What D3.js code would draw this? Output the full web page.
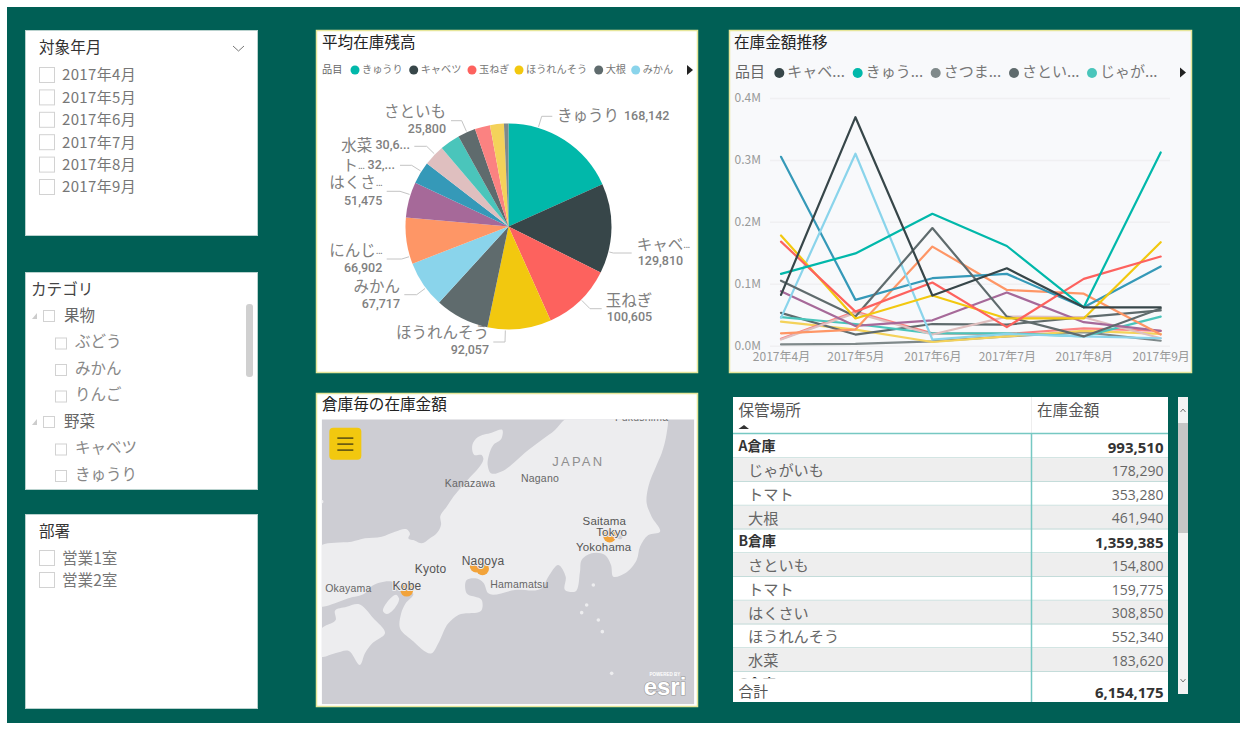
<!DOCTYPE html>
<html><head><meta charset="utf-8">
<style>
html,body{margin:0;padding:0;background:#fff;overflow:hidden}
svg{display:block}
text{font-family:"Noto Sans CJK JP","Noto Sans",sans-serif}
.num{font-family:"Roboto","Noto Sans",sans-serif}
.tnum{font-family:"Open Sans","Noto Sans",sans-serif}
</style>
<script src="https://cdn.jsdelivr.net/npm/d3@7/dist/d3.min.js"></script>
</head><body>
<svg id="c" width="1248" height="733"></svg>
<script>
// ---------- data ----------
const months = [[2017,3],[2017,4],[2017,5],[2017,6],[2017,7],[2017,8]];
const monthLabels = ["2017年4月","2017年5月","2017年6月","2017年7月","2017年8月","2017年9月"];
const departments = ["営業1室","営業2室"];
const categoryTree = [["果物",0],["ぶどう",1],["みかん",1],["りんご",1],["野菜",0],["キャベツ",1],["きゅうり",1]];

const items = ["きゅうり","キャベツ","玉ねぎ","ほうれんそう","大根","みかん","にんじん","はくさい","トマト","水菜","じゃがいも","さといも","ぶどう","りんご","さつまいも"];
const avgStock = [168142,129810,100605,92057,78000,67717,66902,51475,32000,30600,29000,25800,22000,20000,6500];
const itemColors = ["#01B8AA","#374649","#FD625E","#F2C80F","#5F6B6D","#8AD4EB","#FE9666","#A66999","#3599B8","#DFBFBF","#4AC5BB","#5F6B6D","#FB8281","#F4D25A","#7F898A"];

const trendきゅうり = [116,149,213,161,62,312];
const trendキャベツ = [82,369,81,125,62,62];
const trend玉ねぎ = [168,55,102,30,108,144];
const trendほうれんそう = [178,44,81,44,44,167];
const trend大根 = [105,47,190,47,15,60];
const trendみかん = [45,310,10,19,15,12];
const trendにんじん = [20,26,160,90,84,18];
const trendはくさい = [88,32,41,86,38,24];
const trendトマト = [305,74,109,116,62,128];
const trend水菜 = [10,53,18,47,46,12];
const trendじゃがいも = [46,35,20,20,15,47];
const trendさといも = [53,18,35,34,46,57];
const trendぶどう = [11,55,20,19,28,24];
const trendりんご = [39,26,6,15,24,19];
const trendさつまいも = [2,3,7,15,22,8];
const trends = [trendきゅうり,trendキャベツ,trend玉ねぎ,trendほうれんそう,trend大根,trendみかん,trendにんじん,trendはくさい,trendトマト,trend水菜,trendじゃがいも,trendさといも,trendぶどう,trendりんご,trendさつまいも];

const pieLegend = ["きゅうり","キャベツ","玉ねぎ","ほうれんそう","大根","みかん"];
const lineLegend = ["キャベ...","きゅう...","さつま...","さとい...","じゃが..."];
const lineLegendItems = ["キャベツ","きゅうり","さつまいも","さといも","じゃがいも"];

const tableRows = [["A倉庫","993,510",1],["じゃがいも","178,290",0],["トマト","353,280",0],["大根","461,940",0],["B倉庫","1,359,385",1],["さといも","154,800",0],["トマト","159,775",0],["はくさい","308,850",0],["ほうれんそう","552,340",0],["水菜","183,620",0],["C倉庫","857,860",1]];
const tableTotal = "6,154,175";

const warehouseLon = [139.69,136.87,136.73,135.19];
const warehouseLat = [35.69,35.10,35.15,34.71];
const warehouseValue = [993510,1359385,857860,1100000];

// decorative base map, in map-sheet units
const honshu = [[20,465],[60,458],[110,455],[150,445],[200,440],[240,425],[275,418],[285,432],[280,445],[300,452],[320,460],[345,445],[365,430],[378,405],[376,378],[395,350],[415,320],[440,290],[465,262],[490,235],[505,205],[500,195],[478,195],[472,165],[488,142],[530,128],[562,120],[558,148],[535,165],[522,195],[518,225],[528,250],[565,242],[600,215],[640,180],[680,150],[720,120],[750,88],[1058,88],[1055,130],[1040,190],[1025,225],[1000,290],[995,340],[1010,380],[1035,425],[1000,435],[975,470],[965,510],[930,550],[895,560],[888,525],[870,495],[830,490],[800,510],[795,545],[780,605],[750,600],[752,560],[730,525],[700,560],[680,595],[600,600],[520,610],[505,578],[482,565],[455,570],[455,610],[500,630],[500,660],[430,675],[400,700],[370,760],[350,790],[290,750],[255,715],[258,672],[272,640],[295,612],[262,592],[232,575],[168,590],[150,610],[100,625],[60,640],[20,650]];
const awaji = [[205,665],[245,615],[252,625],[215,672]];
const shikoku = [[20,800],[60,790],[100,782],[135,825],[150,790],[172,760],[210,730],[175,685],[130,642],[95,650],[60,662],[62,690],[30,708],[20,715]];
const isles = [[850,690],[862,725],[890,850],[800,668],[835,585],[815,645],[20,335]];
const lakes = [[915,440]];
const mapLabels = [["JAPAN",790,213,13,"#8f8f8f",2.2,0],["Kanazawa",465,278,10.5,"#666",0.2,0],["Nagano",675,265,10.5,"#666",0.2,0],["Saitama",868,394,11.5,"#555",0.2,0],["Tokyo",890,425,11.5,"#555",0.2,2],["Yokohama",866,472,11.5,"#555",0.2,2],["Nagoya",504,513,12,"#555",0.2,2],["Kyoto",347,538,12,"#555",0.2,0],["Kobe",276,587,12,"#555",0.2,2],["Okayama",100,593,10.5,"#666",0.2,0],["Hamamatsu",613,583,10.5,"#666",0.2,0],["Fukushima",980,80,10.5,"#666",0.2,0]];

// ---------- helpers ----------
const svg = d3.select("#c");
const teal = "#005f55";
svg.append("rect").attr("width",1248).attr("height",733).attr("fill","#fff");
svg.append("rect").attr("x",7).attr("y",7).attr("width",1233).attr("height",716).attr("fill",teal);
const defs = svg.append("defs");
function panel(x,y,w,h,fill,stroke,sw){
  svg.append("rect").attr("x",x+.5).attr("y",y+.5).attr("width",w-1).attr("height",h-1).attr("fill",fill||"#fff").attr("stroke",stroke||"#b9d2ce").attr("stroke-width",sw||1);
}
function txt(g,s,x,y,size,fill,anchor,weight,cls){
  const dy = cls ? 0 : -1.2;
  return g.append("text").attr("x",x).attr("y",y+dy).attr("font-size",size).attr("fill",fill)
    .attr("text-anchor",anchor||"start").attr("dominant-baseline","central").attr("font-weight",weight||400).attr("class",cls||null).text(s);
}
function box(g,x,y,s,c){g.append("rect").attr("x",x+.5).attr("y",y+.5).attr("width",s).attr("height",s).attr("fill","#fff").attr("stroke",c||"#d2d2d2").attr("stroke-width",1);}
function arrow(g,x,y){g.append("path").attr("d",d3.line()([[x-3,y-5],[x+3,y],[x-3,y+5]])+"Z").attr("fill","#222");}
// a name whose ellipsis is drawn in the narrower form the reference uses
function addName(t,name){
  const cut=name.indexOf("...");
  if(cut<0){t.append("tspan").text(name);return;}
  t.append("tspan").text(name.slice(0,cut));
  t.append("tspan").attr("font-size",10).attr("letter-spacing",-.6).text("...");
}
const titleSize = 15.6;

// ---------- slicers ----------
panel(25,30,233,206);
txt(svg,"対象年月",39,47,titleSize,"#333");
svg.append("path").attr("d",d3.line()([[233,46],[238.5,51],[244,46]])).attr("fill","none").attr("stroke","#777");
const ySlicer = d3.scalePoint().domain(monthLabels).range([75,187]);
monthLabels.forEach(m=>{box(svg,39,ySlicer(m)-8,15);txt(svg,m,62,ySlicer(m),15,"#777").attr("letter-spacing",.35);});

panel(25,272,233,218);
txt(svg,"カテゴリ",31,289,titleSize,"#444");
svg.append("rect").attr("x",246).attr("y",304).attr("width",7).attr("height",73).attr("rx",3).attr("fill","#d0d0d0");
const yCat = d3.scalePoint().domain(d3.range(categoryTree.length)).range([315,474]);
categoryTree.forEach((c,i)=>{
  const y=yCat(i);
  if(c[1]===0){
    svg.append("path").attr("d",d3.line()([[37,y-3],[37,y+3],[32,y+3]])+"Z").attr("fill","#ccc").attr("transform","translate(0,1)");
    box(svg,43,y-5,11);
    txt(svg,c[0],64,y,15.5,"#666");
  } else {
    box(svg,55,y-4,11);
    txt(svg,c[0],75,y,15.5,"#888");
  }
});

panel(25,514,233,195);
txt(svg,"部署",39,531,titleSize,"#333");
departments.forEach((d,i)=>{const y=558+i*22;box(svg,39,y-8,15);txt(svg,d,62,y,15.6,"#777");});

// ---------- pie ----------
panel(316,30,382,343,"#fff","#e6e69a",1.5);
txt(svg,"平均在庫残高",322,42,titleSize,"#222");
txt(svg,"品目",322,69.5,10.2,"#666");
const pieLegX=[355,413.7,472,519,598.7,635.7];
pieLegend.forEach((n,i)=>{
  const c=itemColors[items.indexOf(n)];
  svg.append("circle").attr("cx",pieLegX[i]).attr("cy",70).attr("r",4.5).attr("fill",c);
  txt(svg,n,pieLegX[i]+7,69.5,10.2,"#777");
});
arrow(svg,690,70);
const pcx=508.5,pcy=226.5;
const pieG=svg.append("g").attr("transform",`translate(${pcx},${pcy})`);
const pieGen=d3.pie().sort(null).value(d=>d)(avgStock);
const arcGen=d3.arc().innerRadius(0).outerRadius(103);
pieG.selectAll("path").data(pieGen).join("path").attr("d",arcGen).attr("fill",(d,i)=>itemColors[i]);
const pieLabels=[
 {a:"start",name:"きゅうり",val:"168,142",tx:557,ty:115,vx:624,inline:true,elbow:[541.7,116.3],end:[552.3,116.3]},
 {a:"start",name:"キャベ...",val:"129,810",tx:636.7,ty:244,vy:260.3,elbow:[613.3,253],end:[631.7,253]},
 {a:"start",name:"玉ねぎ",val:"100,605",tx:605.7,ty:299.7,vy:316.7,elbow:[590,308.7],end:[601.7,308.7]},
 {a:"end",name:"ほうれんそう",val:"92,057",tx:489,ty:332,vy:349.7,elbow:[505,342],end:[493.3,342]},
 {a:"end",name:"みかん",val:"67,717",tx:400,ty:285.7,vy:303.3,elbow:[416.7,294.7],end:[404.3,294.7]},
 {a:"end",name:"にんじ...",val:"66,902",tx:382.3,ty:249.7,vy:267.3,elbow:[401.7,259],end:[386.7,259]},
 {a:"end",name:"はくさ...",val:"51,475",tx:382.3,ty:182.3,vy:200,elbow:[400,191.3],end:[386.7,191.3]},
 {a:"end",name:"ト...",val:"32,...",tx:395,ty:164.7,inline:true,elbow:[411.7,165.3],end:[400,165.3]},
 {a:"end",name:"水菜",val:"30,6...",tx:410,ty:145.3,inline:true,elbow:[426.7,146.3],end:[414.3,146.3]},
 {a:"end",name:"さといも",val:"25,800",tx:446,ty:111.3,vy:128.7,elbow:[461.7,120.7],end:[451,120.7]}
];
const leader=d3.line();
const labelGrey="#808080";
pieLabels.forEach(l=>{
  const dx=l.elbow[0]-pcx,dy=l.elbow[1]-pcy,len=Math.hypot(dx,dy);
  const from=[pcx+dx/len*104,pcy+dy/len*104];
  svg.append("path").attr("d",leader([from,l.elbow,l.end])).attr("fill","none").attr("stroke","#c4c4c4");
  if(l.inline){
    if(l.a==="start"){
      txt(svg,l.name,l.tx,l.ty,15.5,labelGrey);
      txt(svg,l.val,l.vx,l.ty+.5,12.5,labelGrey,"start",500,"num");
    } else {
      const t=txt(svg,"",l.tx,l.ty,15.5,labelGrey,"end");
      addName(t,l.name);
      t.append("tspan").attr("class","num").attr("font-size",12.5).attr("font-weight",500).text(" "+l.val);
    }
  } else {
    addName(txt(svg,"",l.tx,l.ty,15.5,labelGrey,l.a),l.name);
    txt(svg,l.val,l.a==="start"?l.tx+1:l.tx,l.vy,12.5,labelGrey,l.a,500,"num");
  }
});

// ---------- line chart ----------
panel(729,30,463,343,"#f8f9fb","#e6e69a",1.5);
txt(svg,"在庫金額推移",734,42,titleSize,"#222");
txt(svg,"品目",735,71.5,15,"#666");
const lineLegX=[779.3,857.7,935.7,1014,1092];
lineLegend.forEach((n,i)=>{
  const c=itemColors[items.indexOf(lineLegendItems[i])];
  svg.append("circle").attr("cx",lineLegX[i]).attr("cy",73).attr("r",5).attr("fill",c);
  txt(svg,n,lineLegX[i]+8,71.5,15,"#777");
});
arrow(svg,1183,72.5);
const dates=months.map(m=>new Date(m[0],m[1],1));
const xT=d3.scaleTime().domain([dates[0],dates[5]]).range([781,1160.7]);
const yV=d3.scaleLinear().domain([0,400]).range([345.7,98]);
const yAxis=d3.axisLeft(yV).tickValues([0,100,200,300,400]).tickFormat(v=>(v/1000).toFixed(1)+"M").tickSize(0).tickPadding(9);
const gy=svg.append("g").attr("transform","translate(770,0)").call(yAxis);
gy.select(".domain").remove();
gy.selectAll("text").attr("font-size",12).attr("fill","#999");
gy.selectAll("g.tick").append("line").attr("x1",0).attr("x2",400).attr("stroke","#f0f0f2").attr("stroke-width",1.5);
const xAxis=d3.axisBottom(xT).tickValues(dates).tickFormat((d,i)=>monthLabels[i]).tickSize(0).tickPadding(0);
const gx=svg.append("g").attr("transform","translate(0,352.5)").call(xAxis);
gx.select(".domain").remove();
gx.selectAll("text").attr("font-size",12).attr("fill","#999");
const lineGen=d3.line().x((d,i)=>xT(dates[i])).y(d=>yV(d));
const drawOrder=[14,13,12,11,10,9,7,6,8,5,4,3,2,0,1];
drawOrder.forEach(i=>{
  svg.append("path").attr("d",lineGen(trends[i])).attr("fill","none").attr("stroke",itemColors[i]).attr("stroke-width",2.2).attr("stroke-linejoin","round").attr("stroke-linecap","round");
});

// ---------- map ----------
panel(316,393,382,314,"#fff","#e6e69a",1.5);
txt(svg,"倉庫毎の在庫金額",322,404,titleSize,"#222");
const mx=d3.scaleLinear().domain([0,1170]).range([315,705]);
const my=d3.scaleLinear().domain([0,975]).range([390,715]);
defs.append("clipPath").attr("id","mapClip").append("rect").attr("x",mx(20)).attr("y",my(88)).attr("width",mx(1138)-mx(20)).attr("height",my(943)-my(88));
const mapG=svg.append("g").attr("clip-path","url(#mapClip)");
const sea="#cdcdd3",land="#ededef";
mapG.append("rect").attr("x",mx(20)).attr("y",my(88)).attr("width",mx(1138)-mx(20)).attr("height",my(943)-my(88)).attr("fill",sea);
const landLine=d3.line().x(d=>mx(d[0])).y(d=>my(d[1])).curve(d3.curveCatmullRomClosed.alpha(.8));
[honshu,shikoku,awaji].forEach(p=>mapG.append("path").attr("d",landLine(p)).attr("fill",land));
isles.forEach(p=>mapG.append("circle").attr("cx",mx(p[0])).attr("cy",my(p[1])).attr("r",1.8).attr("fill",land));
lakes.forEach(p=>mapG.append("circle").attr("cx",mx(p[0])).attr("cy",my(p[1])).attr("r",2.5).attr("fill",sea));
const proj=d3.geoMercator().scale(2584).center([139.69,35.69]).translate([mx(884),my(438)]);
const rScale=d3.scaleSqrt().domain([0,850000]).range([0,6.5]).clamp(true);
warehouseLon.forEach((lon,i)=>{
  const p=proj([lon,warehouseLat[i]]);
  mapG.append("circle").attr("cx",p[0]).attr("cy",p[1]).attr("r",rScale(warehouseValue[i])).attr("fill","#f2a33a");
});
mapLabels.forEach(l=>{
  const t=txt(mapG,l[0],mx(l[1]),my(l[2]),l[3],l[4],"middle",400,"map").attr("letter-spacing",l[5])
    .style("font-family",'"Liberation Sans",sans-serif');
  if(l[6]) t.attr("stroke",land).attr("stroke-width",l[6]).attr("paint-order","stroke");
});
mapG.append("rect").attr("x",mx(43)).attr("y",my(113)).attr("width",32).attr("height",32).attr("rx",4).attr("fill","#f2c80f");
[-6,0,6].forEach(d=>mapG.append("line").attr("x1",mx(43)+8).attr("x2",mx(43)+24).attr("y1",my(113)+16.5+d).attr("y2",my(113)+16.5+d).attr("stroke","#6b5d12").attr("stroke-width",1.6));
txt(mapG,"esri",mx(1050),my(889),24,"#fff","middle",700,"map").style("font-family",'"Liberation Sans",sans-serif').attr("stroke","#9a9a9a").attr("stroke-width",1.2).attr("paint-order","stroke");
txt(mapG,"POWERED BY",mx(1050),my(852),4.5,"#fff","middle",700,"map").style("font-family",'"Liberation Sans",sans-serif');

// ---------- table ----------
const tX=733,tW=435,tY=397,colX=1031.5,rowH=23.75,rowTop=434.5,footTop=678.5,tBottom=702;
const colLine="#76c8c2";
svg.append("rect").attr("x",tX).attr("y",tY).attr("width",tW).attr("height",tBottom-tY).attr("fill","#fff");
txt(svg,"保管場所",738.5,410,titleSize,"#555");
txt(svg,"在庫金額",1037,410,titleSize,"#555");
svg.append("path").attr("d",d3.line()([[738.5,429],[744,425],[749,429]])+"Z").attr("fill","#333");
svg.append("line").attr("x1",colX).attr("x2",colX).attr("y1",tY).attr("y2",433).attr("stroke","#eeeeee");
defs.append("clipPath").attr("id","tblClip").append("rect").attr("x",tX).attr("y",rowTop).attr("width",tW).attr("height",footTop-rowTop);
const tb=svg.append("g").attr("clip-path","url(#tblClip)");
tableRows.forEach((r,i)=>{
  const y=rowTop+i*rowH;
  if(!r[2]&&(i%2===1)) tb.append("rect").attr("x",tX).attr("y",y).attr("width",tW).attr("height",rowH).attr("fill","#eeeeee");
  tb.append("line").attr("x1",tX).attr("x2",tX+tW).attr("y1",y+rowH-.5).attr("y2",y+rowH-.5).attr("stroke","#c4dcda");
  if(r[2]){
    txt(tb,r[0],738.5,y+12,14,"#333","start",700);
    txt(tb,r[1],1163.5,y+12,15,"#333","end",700,"tnum");
  } else {
    txt(tb,r[0],748,y+12,15.2,"#666");
    txt(tb,r[1],1163.5,y+12,14,"#666","end",400,"tnum");
  }
});
svg.append("rect").attr("x",tX).attr("y",footTop).attr("width",tW).attr("height",tBottom-footTop).attr("fill","#fff");
txt(svg,"合計",738.5,692,14.8,"#555");
txt(svg,tableTotal,1163.5,692,15,"#333","end",700,"tnum");
svg.append("line").attr("x1",tX).attr("x2",tX+tW).attr("y1",433.5).attr("y2",433.5).attr("stroke",colLine).attr("stroke-width",1.5);
svg.append("line").attr("x1",colX).attr("x2",colX).attr("y1",434).attr("y2",tBottom).attr("stroke",colLine).attr("stroke-width",1.5);
svg.append("rect").attr("x",1178).attr("y",397).attr("width",10).attr("height",297).attr("fill","#f3f3f3");
svg.append("rect").attr("x",1178).attr("y",423).attr("width",10).attr("height",110).attr("fill","#c6c6c6");
svg.append("path").attr("d",d3.line()([[1180.5,412],[1183,409],[1185.5,412]])).attr("fill","none").attr("stroke","#777");
svg.append("path").attr("d",d3.line()([[1180.5,679],[1183,682],[1185.5,679]])).attr("fill","none").attr("stroke","#777");
</script>
</body></html>
